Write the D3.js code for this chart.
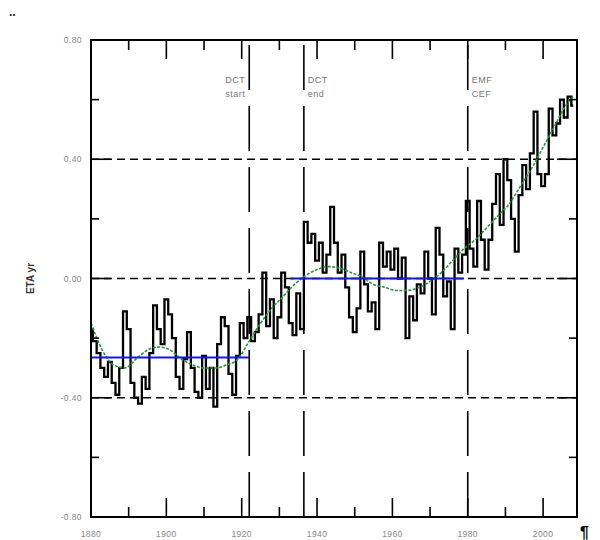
<!DOCTYPE html>
<html>
<head>
<meta charset="utf-8">
<script src="https://cdn.jsdelivr.net/npm/d3@7"></script>
<style>
  body { margin: 0; background: #fff; }
  svg text { font-family: "Liberation Sans", Arial, sans-serif; }
</style>
</head>
<body>
<div id="chart"></div>
<script>
// annual anomaly, 1880 .. 2008
var startYear = 1880;
var anomaly = [
  -0.17, -0.21, -0.25, -0.30, -0.33, -0.28, -0.35, -0.39, -0.30, -0.11,
  -0.17, -0.35, -0.40, -0.42, -0.33, -0.37, -0.25, -0.09, -0.17, -0.22,
  -0.07, -0.12, -0.20, -0.33, -0.37, -0.27, -0.18, -0.30, -0.38, -0.40,
  -0.26, -0.37, -0.30, -0.43, -0.22, -0.13, -0.16, -0.32, -0.39, -0.26,
  -0.15, -0.20, -0.13, -0.21, -0.18, -0.12,  0.02, -0.16, -0.07, -0.20,
  -0.13,  0.02, -0.03, -0.15, -0.19, -0.05, -0.17,  0.19,  0.12,  0.15,
   0.06,  0.12,  0.02,  0.08,  0.24,  0.12,  0.02,  0.08, -0.03, -0.13,
  -0.18, -0.10,  0.09, -0.02, -0.11, -0.08, -0.17,  0.12,  0.04,  0.09,
   0.03,  0.10,  0.00,  0.07, -0.20, -0.06, -0.14, -0.02, -0.05,  0.09,
   0.00, -0.12,  0.17,  0.08, -0.06, -0.01, -0.17,  0.10,  0.02,  0.08,
   0.26,  0.10,  0.04,  0.26,  0.13,  0.03,  0.13,  0.25,  0.35,  0.18,
   0.40,  0.33,  0.20,  0.09,  0.28,  0.38,  0.30,  0.42,  0.56,  0.35,
   0.31,  0.35,  0.57,  0.48,  0.52,  0.60,  0.54,  0.61,  0.58
];

// smoothed trend (green)
var smoothYears = [1880, 1883, 1886, 1889, 1892, 1895, 1898, 1901, 1904, 1907,
  1910, 1913, 1916, 1919, 1922, 1925, 1928, 1931, 1934, 1937, 1940, 1943, 1946,
  1949, 1952, 1955, 1958, 1961, 1964, 1967, 1970, 1973, 1976, 1979, 1982, 1985,
  1988, 1991, 1994, 1997, 2000, 2003, 2006, 2008];
var smoothValues = [-0.15, -0.24, -0.29, -0.30, -0.27, -0.24, -0.23, -0.24, -0.27, -0.29,
  -0.30, -0.30, -0.29, -0.27, -0.21, -0.15, -0.10, -0.06, -0.02, 0.01, 0.03, 0.04, 0.035,
  0.02, 0.005, -0.02, -0.03, -0.04, -0.04, -0.03, -0.01, 0.02, 0.06, 0.10, 0.13, 0.17,
  0.21, 0.25, 0.31, 0.37, 0.44, 0.51, 0.58, 0.61];

// blue level segments
var levelFrom = [1880, 1933];
var levelTo = [1922, 1979];
var levelValue = [-0.265, 0.0];

// vertical event markers
var markerYears = [1922, 1936.5, 1980];
var markerLabels = [["DCT", "start"], ["DCT", "end"], ["EMF", "CEF"]];

var xTicks = [1880, 1900, 1920, 1940, 1960, 1980, 2000];
var yTicks = [0.8, 0.4, 0.0, -0.4, -0.8];

var margin = { left: 91, right: 23, top: 40, bottom: 23 };
var width = 600, height = 540;
var innerW = width - margin.left - margin.right,
    innerH = height - margin.top - margin.bottom;

var svg = d3.select("#chart").append("svg")
  .attr("width", width)
  .attr("height", height);

var x = d3.scaleLinear().domain([1880, 2009]).range([margin.left, margin.left + innerW]);
var y = d3.scaleLinear().domain([-0.8, 0.8]).range([margin.top + innerH, margin.top]);

// dashed horizontal grid at +-0.4 and 0
svg.selectAll("line.hgrid")
  .data([0.4, 0.0, -0.4])
  .enter().append("line")
    .attr("class", "hgrid")
    .attr("x1", x.range()[0]).attr("x2", x.range()[1])
    .attr("y1", function(d) { return y(d); })
    .attr("y2", function(d) { return y(d); })
    .attr("stroke", "#000")
    .attr("stroke-width", 1.6)
    .attr("stroke-dasharray", "8,5");

// vertical event lines
svg.selectAll("line.vline")
  .data(markerYears)
  .enter().append("line")
    .attr("class", "vline")
    .attr("x1", function(d) { return x(d); })
    .attr("x2", function(d) { return x(d); })
    .attr("y1", y(-0.8)).attr("y2", y(0.8))
    .attr("stroke", "#000")
    .attr("stroke-width", 1.6)
    .attr("stroke-dasharray", "45,16");

// marker labels
markerLabels.forEach(function(lbl, i) {
  var right = i === 0;
  var tx = right ? x(markerYears[i]) - 4 : x(markerYears[i]) + 4;
  var t = svg.append("text")
    .attr("x", tx)
    .attr("y", 83)
    .attr("text-anchor", right ? "end" : "start")
    .attr("font-size", 9)
    .attr("letter-spacing", 0.5)
    .attr("fill", "#777");
  t.append("tspan").attr("x", tx).attr("dy", 0).text(lbl[0]);
  t.append("tspan").attr("x", tx).attr("dy", 14).text(lbl[1]);
});

// black annual series
var series = anomaly.map(function(v, i) { return { year: startYear + i, value: v }; });
var line = d3.line()
  .x(function(d) { return x(d.year); })
  .y(function(d) { return y(d.value); })
  .curve(d3.curveStep);
svg.append("path")
  .datum(series)
  .attr("fill", "none")
  .attr("stroke", "#000")
  .attr("stroke-width", 2.3)
  .attr("d", line);

// green smooth
var smooth = smoothYears.map(function(yr, i) { return { year: yr, value: smoothValues[i] }; });
svg.append("path")
  .datum(smooth)
  .attr("fill", "none")
  .attr("stroke", "#1f9a3c")
  .attr("stroke-width", 1.6)
  .attr("stroke-dasharray", "3,1.5")
  .attr("d", d3.line()
    .x(function(d) { return x(d.year); })
    .y(function(d) { return y(d.value); })
    .curve(d3.curveMonotoneX));

// blue level lines
svg.selectAll("line.level")
  .data(levelValue)
  .enter().append("line")
    .attr("class", "level")
    .attr("x1", function(d, i) { return x(levelFrom[i]); })
    .attr("x2", function(d, i) { return x(levelTo[i]); })
    .attr("y1", function(d) { return y(d); })
    .attr("y2", function(d) { return y(d); })
    .attr("stroke", "#1414ff")
    .attr("stroke-width", 2.2);

// axes: ticks pointing inward on all four sides
var xMinor = d3.range(1890, 2009, 20);
var yMinor = [0.6, 0.2, -0.2, -0.6];

function xAxisTicks(yPos, dir) {
  svg.selectAll(null).data(xTicks.slice(1)).enter().append("line")
    .attr("x1", function(d) { return x(d); }).attr("x2", function(d) { return x(d); })
    .attr("y1", yPos).attr("y2", yPos + dir * 19)
    .attr("stroke", "#000").attr("stroke-width", 1.6);
  svg.selectAll(null).data(xMinor).enter().append("line")
    .attr("x1", function(d) { return x(d); }).attr("x2", function(d) { return x(d); })
    .attr("y1", yPos).attr("y2", yPos + dir * 10)
    .attr("stroke", "#000").attr("stroke-width", 1.6);
}
function yAxisTicks(xPos, dir) {
  svg.selectAll(null).data([0.4, 0.0, -0.4]).enter().append("line")
    .attr("y1", function(d) { return y(d); }).attr("y2", function(d) { return y(d); })
    .attr("x1", xPos).attr("x2", xPos + dir * 20)
    .attr("stroke", "#000").attr("stroke-width", 1.6);
  svg.selectAll(null).data(yMinor).enter().append("line")
    .attr("y1", function(d) { return y(d); }).attr("y2", function(d) { return y(d); })
    .attr("x1", xPos).attr("x2", xPos + dir * 8)
    .attr("stroke", "#000").attr("stroke-width", 1.6);
}
xAxisTicks(y(-0.8), -1);
xAxisTicks(y(0.8), 1);
yAxisTicks(x(1880), 1);
yAxisTicks(x(2009), -1);

// frame
svg.append("rect")
  .attr("x", x.range()[0]).attr("y", y(0.8))
  .attr("width", innerW).attr("height", innerH)
  .attr("fill", "none")
  .attr("stroke", "#000")
  .attr("stroke-width", 2);

// tick labels
svg.selectAll("text.xl")
  .data(xTicks)
  .enter().append("text")
    .attr("class", "xl")
    .attr("x", function(d) { return x(d); })
    .attr("y", 537)
    .attr("text-anchor", "middle")
    .attr("font-size", 8.5)
    .attr("letter-spacing", 0.4)
    .attr("fill", "#888")
    .text(function(d) { return d; });

svg.selectAll("text.yl")
  .data(yTicks)
  .enter().append("text")
    .attr("class", "yl")
    .attr("x", 82)
    .attr("y", function(d) { return y(d) + 3; })
    .attr("text-anchor", "end")
    .attr("font-size", 8.5)
    .attr("letter-spacing", 0.4)
    .attr("fill", "#888")
    .text(function(d) { return d3.format(".2f")(d).replace("−", "-"); });

// y title
svg.append("text")
  .attr("transform", "translate(34," + y(0) + ") rotate(-90)")
  .attr("text-anchor", "middle")
  .attr("font-size", 10)
  .attr("font-weight", "bold")
  .attr("fill", "#333")
  .text("ETA yr");

// stray marks from the source document
svg.append("text").attr("x", 9).attr("y", 16)
  .attr("font-size", 12).attr("font-weight", "bold").attr("fill", "#222").text("..");
svg.append("text").attr("x", 580).attr("y", 538)
  .attr("font-size", 16).attr("font-weight", "bold").attr("fill", "#000").text("¶");
</script>
</body>
</html>
